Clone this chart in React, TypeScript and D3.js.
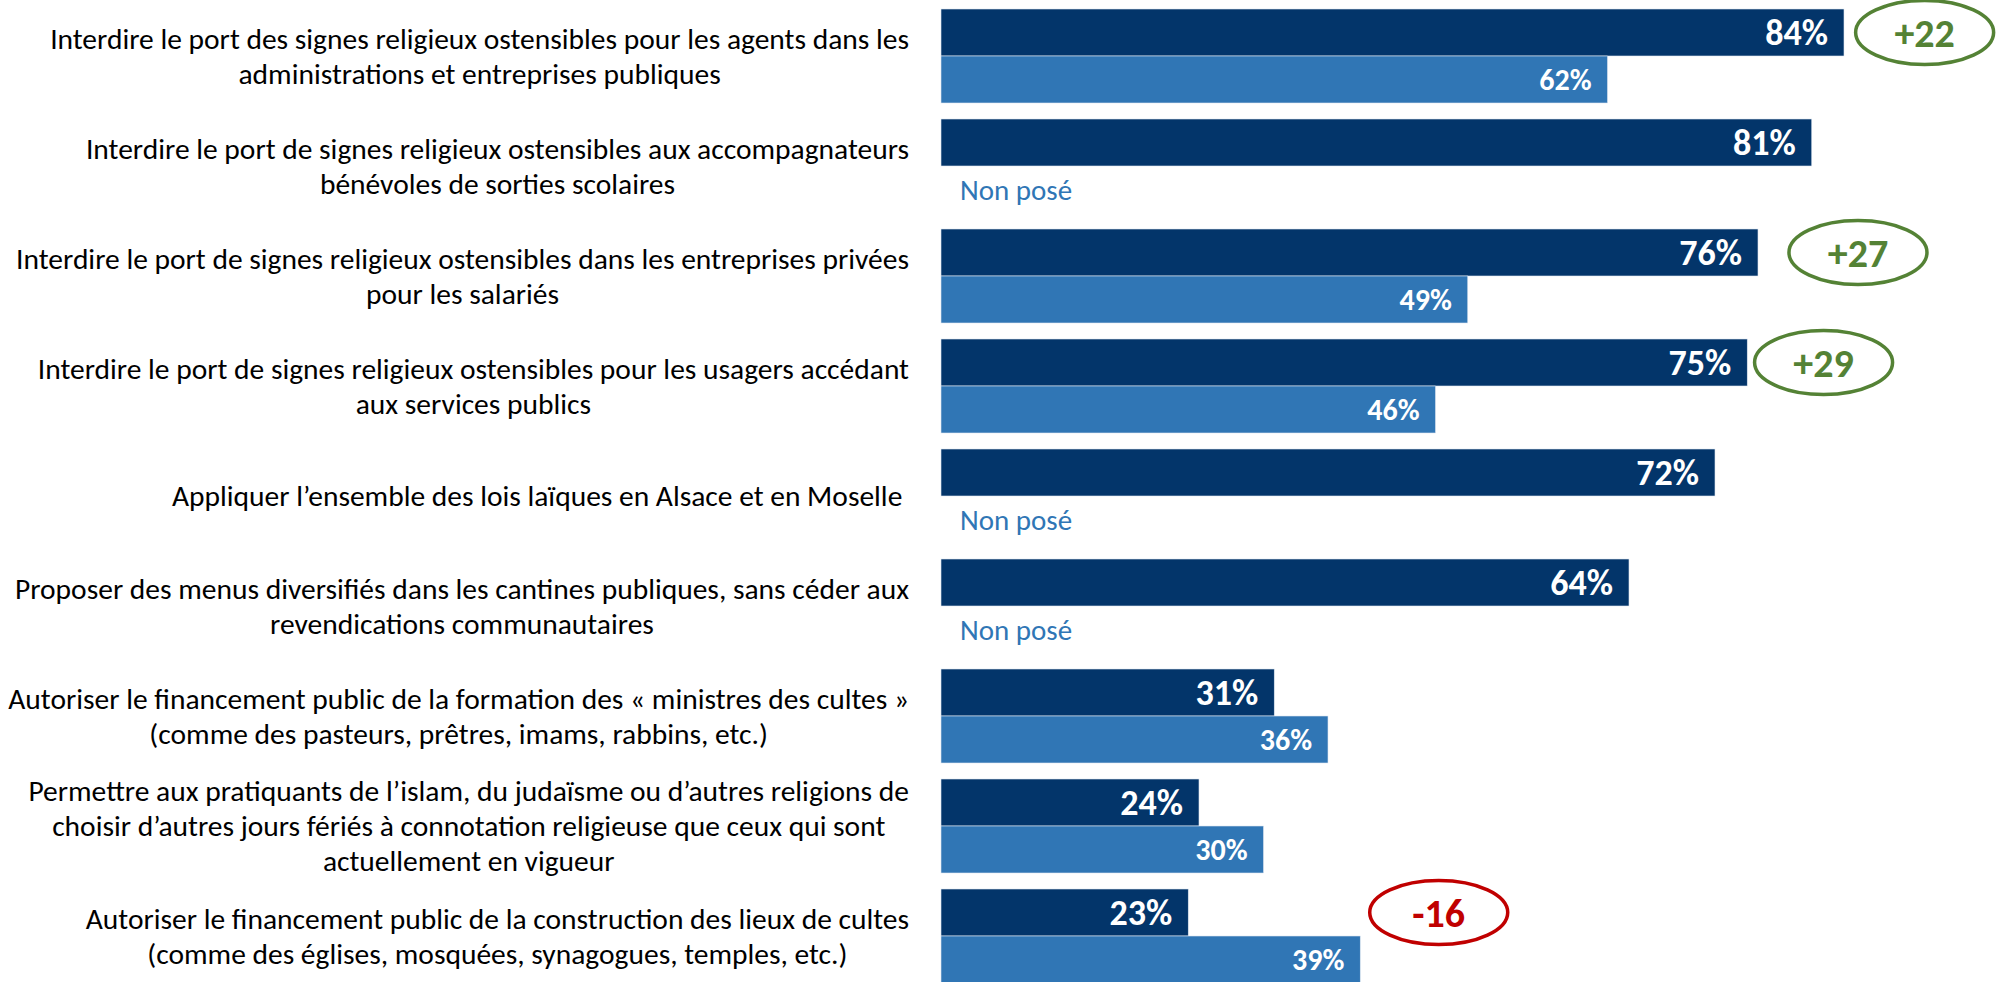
import React, { useRef, useEffect } from 'react';
import * as d3 from 'd3';

// Libellés des mesures (retours à la ligne comme dans l'original)
const categories = [
    "Interdire le port des signes religieux ostensibles pour les agents dans les\nadministrations et entreprises publiques",
    "Interdire le port de signes religieux ostensibles aux accompagnateurs\nbénévoles de sorties scolaires",
    "Interdire le port de signes religieux ostensibles dans les entreprises privées\npour les salariés",
    "Interdire le port de signes religieux ostensibles pour les usagers accédant\naux services publics",
    "Appliquer l’ensemble des lois laïques en Alsace et en Moselle ",
    "Proposer des menus diversifiés dans les cantines publiques, sans céder aux\nrevendications communautaires",
    "Autoriser le financement public de la formation des « ministres des cultes »\n(comme des pasteurs, prêtres, imams, rabbins, etc.)",
    "Permettre aux pratiquants de l’islam, du judaïsme ou d’autres religions de\nchoisir d’autres jours fériés à connotation religieuse que ceux qui sont\nactuellement en vigueur",
    "Autoriser le financement public de la construction des lieux de cultes\n(comme des églises, mosquées, synagogues, temples, etc.)",
];

// Vague actuelle (bleu foncé) et vague précédente (bleu clair, null = non posé)
const currentValues = [84, 81, 76, 75, 72, 64, 31, 24, 23];
const previousValues = [62, null, 49, 46, null, null, 36, 30, 39];

// Évolutions entourées et leur position sur l'axe des %
const deltaLabels = ["+22", null, "+27", "+29", null, null, null, null, "-16"];
const deltaAt = [91.5, null, 85.3, 82.1, null, null, null, null, 46.3];

const NOT_ASKED = "Non posé";

const DARK = "#03356A";
const LIGHT = "#3076B5";
const GREEN = "#548235";
const RED = "#C00000";
const FONT = "Carlito, Calibri, Lato, sans-serif";

const App = () => {
    const svgRef = useRef(null);

    useEffect(() => {
        const width = 2000;
        const height = 982;

        const svg = d3.select(svgRef.current);
        svg.selectAll("*").remove();
        svg.attr("width", width).attr("height", height);

        const x = d3.scaleLinear().domain([0, 100]).range([941, 2016]);
        const y = d3.scaleBand()
            .domain(categories.map((_, i) => String(i)))
            .range([9, 983])
            .paddingInner(16 / 110)
            .paddingOuter(0);
        const sub = d3.scaleBand().domain(["cur", "prev"]).range([0, y.bandwidth()]);

        const rows = categories.map((label, i) => ({
            i,
            lines: label.split("\n"),
            cur: currentValues[i],
            prev: previousValues[i],
            delta: deltaLabels[i],
            at: deltaAt[i],
        }));

        const g = svg.selectAll("g.row")
            .data(rows)
            .enter().append("g")
            .attr("class", "row")
            .attr("transform", d => `translate(0,${y(String(d.i))})`);

        // barres vague actuelle
        g.append("rect")
            .attr("x", x(0))
            .attr("y", sub("cur"))
            .attr("width", d => x(d.cur) - x(0))
            .attr("height", sub.bandwidth())
            .attr("fill", DARK)
            .attr("stroke", "#dfe7f1")
            .attr("stroke-width", 0.6);

        g.append("text")
            .attr("x", d => x(d.cur) - 16)
            .attr("y", sub("cur") + sub.bandwidth() / 2)
            .attr("dy", "0.35em")
            .attr("text-anchor", "end")
            .style("font-family", FONT)
            .style("font-weight", "bold")
            .style("font-size", "36px")
            .style("fill", "#fff")
            .text(d => `${d.cur}%`);

        // barres vague précédente
        const prev = g.filter(d => d.prev != null);
        prev.append("rect")
            .attr("x", x(0))
            .attr("y", sub("prev"))
            .attr("width", d => x(d.prev) - x(0))
            .attr("height", sub.bandwidth())
            .attr("fill", LIGHT)
            .attr("stroke", "#dfe7f1")
            .attr("stroke-width", 0.6);

        prev.append("text")
            .attr("x", d => x(d.prev) - 16)
            .attr("y", sub("prev") + sub.bandwidth() / 2)
            .attr("dy", "0.35em")
            .attr("text-anchor", "end")
            .style("font-family", FONT)
            .style("font-weight", "bold")
            .style("font-size", "30px")
            .style("fill", "#fff")
            .text(d => `${d.prev}%`);

        g.filter(d => d.prev == null).append("text")
            .attr("x", x(0) + 19)
            .attr("y", sub("prev") + sub.bandwidth() / 2)
            .attr("dy", "0.35em")
            .style("font-family", FONT)
            .style("font-size", "29px")
            .style("fill", LIGHT)
            .text(NOT_ASKED);

        // évolutions entourées
        const notes = g.filter(d => d.delta != null);
        notes.append("ellipse")
            .attr("cx", d => x(d.at))
            .attr("cy", sub("cur") + sub.bandwidth() / 2)
            .attr("rx", 69)
            .attr("ry", 32)
            .attr("fill", "none")
            .attr("stroke", d => d.delta.startsWith("-") ? RED : GREEN)
            .attr("stroke-width", 3.5);

        notes.append("text")
            .attr("x", d => x(d.at))
            .attr("y", sub("cur") + sub.bandwidth() / 2)
            .attr("dy", "0.35em")
            .attr("text-anchor", "middle")
            .style("font-family", FONT)
            .style("font-weight", "bold")
            .style("font-size", "40px")
            .style("fill", d => d.delta.startsWith("-") ? RED : GREEN)
            .text(d => d.delta);

        // libellés : lignes centrées, bloc calé à droite
        const lineH = 35;
        const labelRight = 909;
        g.each(function (d) {
            const row = d3.select(this);
            const cy = y.bandwidth() / 2;
            const n = d.lines.length;
            const texts = d.lines.map((line, k) => row.append("text")
                .attr("y", cy + (k - (n - 1) / 2) * lineH)
                .attr("dy", "0.35em")
                .attr("text-anchor", "middle")
                .style("white-space", "pre")
                .style("font-family", FONT)
                .style("font-size", "29.5px")
                .style("fill", "#000")
                .text(line));
            const maxW = d3.max(texts, t => t.node().getComputedTextLength());
            texts.forEach(t => t.attr("x", labelRight - maxW / 2));
        });
    }, []);

    return (
        <div style={{ position: 'fixed', left: 0, top: 0, width: 2000, height: 982, background: '#fff' }}>
            <svg ref={svgRef} style={{ display: 'block' }} />
        </div>
    );
};

export default App;
